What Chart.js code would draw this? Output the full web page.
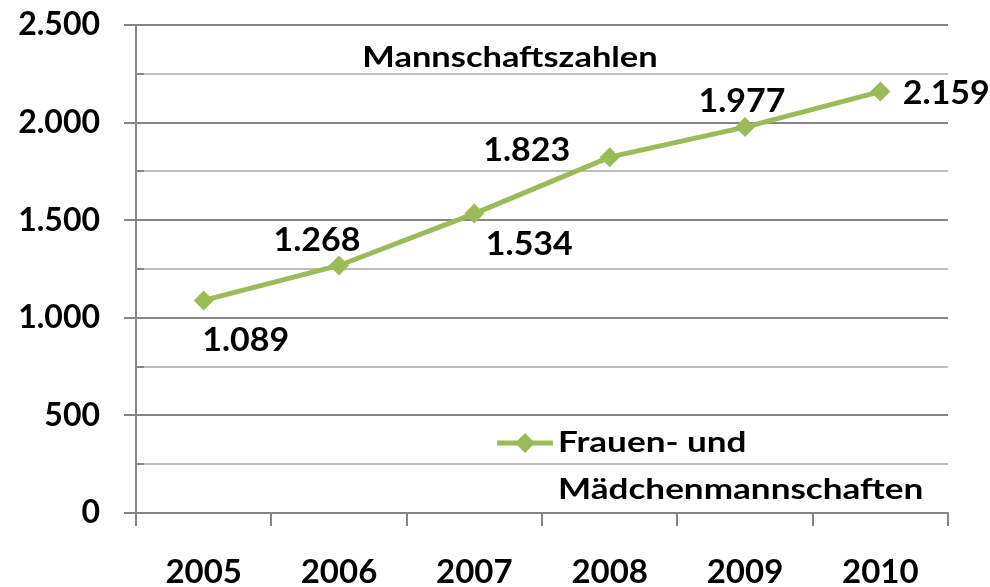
<!DOCTYPE html>
<html>
<head>
<meta charset="utf-8">
<script src="https://cdn.jsdelivr.net/npm/chart.js@4.4.1/dist/chart.umd.min.js"></script>
<style>
  html, body { margin: 0; padding: 0; background: #fff; }
  #wrap { width: 990px; height: 587px; position: relative; }
</style>
</head>
<body>
<div id="wrap"><canvas id="chart" width="990" height="587"></canvas></div>
<script>
const years = ['2005', '2006', '2007', '2008', '2009', '2010'];
const teams = [1089, 1268, 1534, 1823, 1977, 2159];
const seriesName = ['Frauen- und', 'Mädchenmannschaften'];
const chartTitle = 'Mannschaftszahlen';

const GREEN = '#9BBB59';
const FONT = 'Lato, "Open Sans", sans-serif';

function fmtDe(v) {
  return v.toLocaleString('de-DE');
}

// where each value label sits relative to its point
const labelOffsets = [[42, 40], [-22, -25], [55, 31], [-83, -7], [-3, -26], [66, 2]];

// text drawn a bit wider, the original looks stretched sideways
function wideText(ctx, txt, x, y, sx) {
  ctx.save();
  ctx.translate(x, y);
  ctx.scale(sx, 1);
  ctx.fillText(txt, 0, 0);
  ctx.restore();
}

const extras = {
  id: 'extras',
  afterDatasetsDraw(chart) {
    const ctx = chart.ctx;
    const area = chart.chartArea;
    const y = chart.scales.y;
    const meta = chart.getDatasetMeta(0);
    ctx.save();

    // little inner marks on the minor gridlines
    ctx.strokeStyle = '#868686';
    ctx.lineWidth = 2;
    for (let v = 250; v < 2500; v += 500) {
      const py = Math.round(y.getPixelForValue(v));
      ctx.beginPath(); ctx.moveTo(area.left, py); ctx.lineTo(area.left + 8, py); ctx.stroke();
    }

    // value labels
    ctx.fillStyle = '#000';
    ctx.font = 'bold 33px ' + FONT;
    ctx.textAlign = 'center';
    ctx.textBaseline = 'middle';
    meta.data.forEach(function(pt, i) {
      const o = labelOffsets[i];
      wideText(ctx, fmtDe(teams[i]), pt.x + o[0], pt.y + o[1], 1.03);
    });

    // title inside the plot
    ctx.font = 'bold 28px ' + FONT;
    wideText(ctx, chartTitle, area.left + 374, area.top + 33, 1.23);

    // legend
    const lx = area.left + 361, ly = area.top + 418;
    ctx.strokeStyle = GREEN; ctx.lineWidth = 5;
    ctx.beginPath(); ctx.moveTo(lx, ly); ctx.lineTo(lx + 56, ly); ctx.stroke();
    ctx.fillStyle = GREEN;
    ctx.beginPath();
    ctx.moveTo(lx + 28, ly - 10); ctx.lineTo(lx + 38, ly); ctx.lineTo(lx + 28, ly + 10); ctx.lineTo(lx + 18, ly);
    ctx.closePath(); ctx.fill();
    ctx.fillStyle = '#000';
    ctx.font = 'bold 29px ' + FONT;
    ctx.textAlign = 'left';
    wideText(ctx, seriesName[0], lx + 61, ly, 1.21);
    wideText(ctx, seriesName[1], lx + 61, ly + 47, 1.21);
    ctx.restore();
  }
};

new Chart(document.getElementById('chart').getContext('2d'), {
  type: 'line',
  data: {
    labels: years,
    datasets: [{
      label: seriesName.join(' '),
      data: teams,
      borderColor: GREEN,
      backgroundColor: GREEN,
      borderWidth: 5,
      tension: 0,
      pointStyle: 'rectRot',
      pointRadius: 10,
      pointBorderWidth: 0,
      pointBackgroundColor: GREEN
    }]
  },
  options: {
    responsive: false,
    animation: false,
    layout: { autoPadding: false, padding: { top: 25, right: 42, left: 0, bottom: 0 } },
    plugins: {
      legend: { display: false },
      tooltip: { enabled: false },
      title: { display: false }
    },
    scales: {
      y: {
        min: 0, max: 2500,
        afterFit: function(s) { s.width = 136; s.paddingTop = 0; s.paddingBottom = 0; },
        ticks: {
          stepSize: 250,
          autoSkip: false,
          padding: 24,
          color: '#000',
          font: { family: FONT, size: 32, weight: 'bold' },
          callback: function(v) { return v % 500 === 0 ? fmtDe(v) : ''; }
        },
        grid: {
          lineWidth: 2,
          tickLength: 12,
          color: function(c) { return c.tick && c.tick.value % 500 === 0 ? '#868686' : '#bdbdbd'; },
          tickColor: function(c) { return c.tick && c.tick.value % 500 === 0 ? '#868686' : 'rgba(0,0,0,0)'; }
        },
        border: { color: '#868686', width: 2 }
      },
      x: {
        offset: true,
        afterFit: function(s) { s.height = 74; s.paddingLeft = 0; s.paddingRight = 0; },
        ticks: {
          padding: 27,
          color: '#000',
          maxRotation: 0,
          font: { family: FONT, size: 33, weight: 'bold' }
        },
        grid: {
          offset: true,
          drawOnChartArea: false,
          tickLength: 13,
          lineWidth: 2,
          tickColor: '#868686'
        },
        border: { color: '#868686', width: 2 }
      }
    }
  },
  plugins: [extras]
});
</script>
</body>
</html>
